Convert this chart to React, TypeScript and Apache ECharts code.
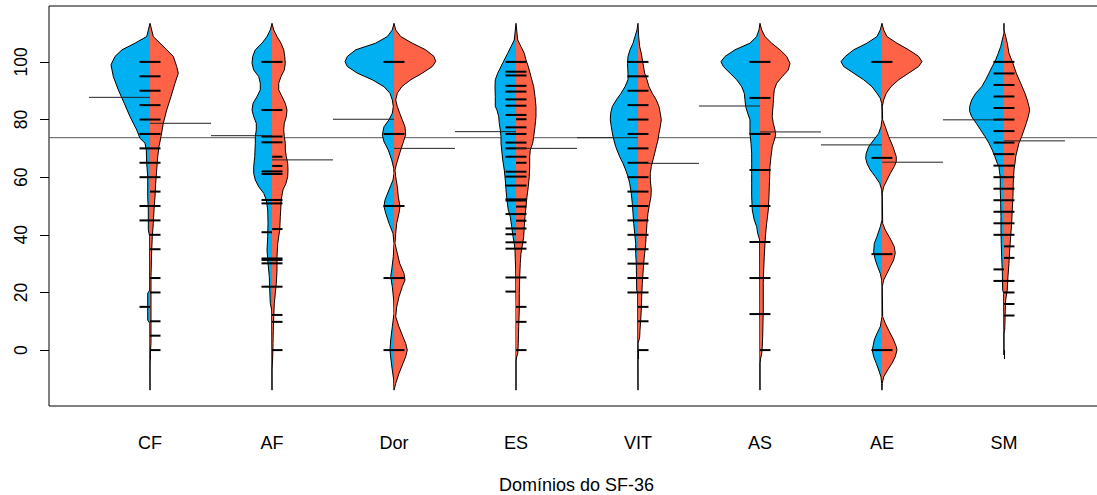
import React, { useEffect, useRef } from 'react';
import * as echarts from 'echarts';

const CATEGORIES = ['CF', 'AF', 'Dor', 'ES', 'VIT', 'AS', 'AE', 'SM'];
const Y_TICKS = [0, 20, 40, 60, 80, 100];
const X_TITLE = 'Domínios do SF-36';
const OVERALL_MEAN = 73.7;
const MEAN_LEFT = [87.7, 74.4, 80.1, 75.8, 73.7, 84.7, 71.2, 79.9];
const MEAN_RIGHT = [78.7, 66, 70, 70, 64.8, 75.7, 65.2, 72.6];

// density outlines: [value, density] (density in arbitrary width units)
const CF_DENS_L = [[113.4,0],[108.8,3.3],[106.5,15],[104.2,28],[101.9,35],[99,39],[94.9,36.7],[90.3,31.7],[85.6,25.7],[81,20],[76.4,13.3],[73.5,10],[71.8,5],[69.4,3.7],[64.8,3.3],[60.2,2.3],[53.2,2.3],[48.6,1.7],[41.7,1.7],[39.4,0.3],[20.8,0.3],[19.7,2.3],[10.4,2.3],[9.3,0.2],[-13.9,0]];
const CF_DENS_R = [[113.4,0],[108.8,3.3],[106.5,10],[104.2,16.7],[101.9,23.3],[98.4,26.7],[96.1,28.3],[92.6,25],[88,21],[83.3,16.7],[78.7,13.3],[74.1,11],[70.6,9],[67.1,7.7],[62.5,6.7],[57.9,5.7],[53.2,5],[48.6,4],[44,3.3],[39.4,2.3],[34.7,1.7],[25.5,1],[2.3,1],[-1.2,0.3],[-5.8,0],[-13.9,0]];
const AF_DENS_L = [[113.4,0],[111.1,1.7],[108.8,5],[106.5,10],[104.2,16.7],[101.9,19.3],[99.5,20],[97.2,18.3],[94.9,13.3],[92.6,11.7],[90.3,11.7],[88,15],[85.6,19],[83.3,20],[81,18.3],[78.7,15.7],[76.4,15.7],[74.1,16.7],[71.8,16.7],[67.1,17.3],[63.7,18.3],[61.3,18.3],[59,16.7],[56.7,13.3],[54.4,8.3],[52.1,5.7],[48.6,4.3],[44,4],[39.4,4.3],[34.7,5],[30.1,4],[25.5,2.7],[20.8,2.3],[16.2,1.7],[13.9,0.3],[-13.9,0]];
const AF_DENS_R = [[113.4,0],[111.1,1.7],[108.8,5],[106.5,9],[104.2,11.7],[101.9,12.7],[99.5,13.3],[97.2,12.3],[94.9,9],[92.6,6.7],[90.3,6.7],[88,10],[85.6,13.3],[83.3,15],[81,14.3],[78.7,12.3],[76.4,11.7],[74.1,12.3],[71.8,13.3],[69.4,13.3],[67.1,14.3],[64.8,15.7],[62.5,16],[60.2,15.7],[57.9,14],[55.6,11],[53.2,9.7],[50.9,9],[48.6,8.7],[46.3,8.3],[41.7,7.7],[37,5.7],[32.4,5],[27.8,5],[23.1,4.3],[19.7,3.3],[16.2,2.3],[11.6,1.7],[6.9,1.3],[2.3,1],[-2.3,0.7],[-6.9,0],[-13.9,0]];
const DOR_DENS_L = [[113.4,0],[111.1,1.7],[108.8,6.7],[106.5,18.3],[104.2,38.3],[101.9,46.7],[100.1,49],[98.4,46.7],[96.1,36.7],[93.8,21.7],[91.4,10],[89.1,4],[86.8,1.7],[84.5,0.7],[82.2,1.7],[79.9,5],[77.5,10],[74.7,11.7],[72.3,10],[69.4,5.7],[66,2.3],[63.1,0.3],[61.3,0],[59,1],[55.6,5],[52.1,9],[49.8,10],[47.5,8.3],[44,5],[40.5,1],[37,0],[32.4,0.7],[27.8,2.3],[25.5,3.3],[22,1.7],[17.4,0.3],[12.7,0],[8.1,1.7],[3.5,3.3],[0,4],[-3.5,3],[-6.9,1.7],[-10.4,0.3],[-13.9,0]];
const DOR_DENS_R = [[113.4,0],[111.1,1.7],[108.8,6.7],[106.5,18.3],[104.2,31.7],[101.9,40],[100.1,41.7],[98.4,38.3],[96.1,28.3],[93.8,16.7],[91.4,7.7],[89.1,3.3],[86.8,1.7],[84.5,3.3],[82.2,5.7],[79.9,8.3],[77.5,11],[74.7,11.7],[71.8,9],[68.3,5.7],[64.8,2.7],[62.5,1],[60.2,1.7],[56.7,3.3],[53.2,4.3],[49.8,6],[47.5,5],[44,2.7],[40.5,1.7],[37,1],[33.6,3.3],[30.1,5.7],[26.6,10],[24.3,11],[22,8.3],[18.5,5],[15,2.7],[11.6,1.7],[8.1,5],[4.6,9],[2.3,11.7],[0,13.3],[-2.3,11.7],[-4.6,9],[-8.1,5],[-11.6,1.7],[-13.9,0]];
const ES_DENS_L = [[113.4,0],[107.6,1.7],[105.3,5],[103,8.3],[100.7,11.7],[98.4,15],[96.1,18.3],[93.8,20.7],[91.4,21],[88,20.7],[84.5,20.7],[83.3,19],[81,17.3],[78.7,16.7],[76.4,15.7],[74.1,15],[71.8,15],[69.4,14.3],[66,13.3],[62.5,11.7],[59,10.7],[55.6,10],[52.1,9],[48.6,7.7],[46.3,5.7],[42.8,4.3],[39.4,3],[37,1.7],[34.7,1],[31.3,0.7],[27.8,0.3],[16.2,0],[-13.9,0]];
const ES_DENS_R = [[113.4,0],[107.6,1.7],[105.3,5],[103,8.3],[100.7,10],[98.4,12.3],[94.9,15],[91.4,17.7],[88,19],[84.5,20],[81,20],[77.5,19],[74.1,17.7],[71.8,16.7],[69.4,14.3],[67.1,13.7],[63.7,13.7],[60.2,13.3],[56.7,12.3],[53.2,11],[49.8,10],[46.3,9],[42.8,8.3],[39.4,7.7],[37,6.7],[33.6,5],[30.1,4.3],[25.5,3.7],[19.7,3.3],[13.9,3.3],[8.1,2.7],[2.3,2.3],[-1.2,1.7],[-2.9,0.3],[-4,0],[-13.9,0]];
const VIT_DENS_L = [[113.4,0],[111.1,1],[108.8,3],[106.5,5],[104.2,8],[101.9,10],[99.5,10.5],[96.1,10],[93.8,10],[91.4,13],[89.1,17],[86.8,21.7],[84.5,25.7],[82.2,27.3],[79.9,27.7],[77.5,26.7],[74.1,25],[70.6,22.3],[67.1,18.3],[64.8,15],[62.5,12.3],[60.2,10],[57.9,8.3],[54.4,6.7],[50.9,5.7],[47.5,5],[44,4.3],[40.5,3.3],[37,2.3],[33.6,2.3],[30.1,1.7],[20.8,1.3],[19.7,0.3],[-13.9,0]];
const VIT_DENS_R = [[113.4,0],[108.8,0.7],[105.3,1.7],[103,3.3],[99.5,5],[96.1,6.7],[93.8,9],[91.4,11],[89.1,14.3],[86.8,18.3],[84.5,21],[82.2,22.3],[79.9,23.3],[77.5,22.3],[75.2,21],[72.9,20],[70.6,18.3],[68.3,16.7],[66,15],[63.7,13.3],[61.3,12.3],[59,12.3],[55.6,13.3],[53.2,13],[50.9,11.7],[47.5,10],[44,9],[40.5,8.3],[37,7.7],[33.6,6.7],[30.1,5.7],[26.6,5],[23.1,4.3],[18.5,3.7],[13.9,3.3],[10.4,2.7],[6.9,2],[4.6,1.7],[3.5,1],[2.3,0],[-13.9,0]];
const AS_DENS_L = [[113.4,0],[111.1,1],[108.8,3.3],[106.5,10],[104.2,25],[101.9,35],[100.1,39],[98.4,36.7],[96.1,30],[93.8,23.3],[91.4,18.3],[89.1,15.7],[86.8,15],[84.5,14.3],[82.2,12.3],[79.9,10],[77.5,10],[75.2,10],[71.8,9],[68.3,8.3],[64.8,8.3],[61.3,8.3],[57.9,8.3],[53.2,8.3],[48.6,7.7],[45.1,5.7],[42.8,3.3],[40.5,2.3],[38.2,0.3],[-13.9,0]];
const AS_DENS_R = [[113.4,0],[111.1,1.7],[108.8,5],[106.5,11.7],[104.2,20],[101.9,26.7],[99.5,30],[97.2,28.3],[94.9,22.3],[92.6,16.7],[90.3,14.3],[88,13.7],[85.6,13.3],[83.3,12.7],[81,12.3],[78.7,13.3],[76.4,15],[74.7,15.7],[72.9,14.3],[70.6,12.3],[67.1,11],[63.7,10],[60.2,9.7],[56.7,9.3],[53.2,9],[48.6,8.3],[44,6.7],[40.5,5.7],[37,5],[32.4,4.3],[27.8,3.7],[23.1,3.3],[13.9,3.3],[9.3,3],[4.6,2.7],[1.2,2.3],[-1.2,1.7],[-2.9,0.7],[-4.6,0],[-13.9,0]];
const AE_DENS_L = [[113.4,0],[111.1,1.7],[108.8,5],[106.5,15],[104.2,28.3],[101.9,36.7],[100.1,41],[98.4,38.3],[96.1,28.3],[93.8,18.3],[91.4,10],[89.1,5],[87.4,1.7],[85.6,0.3],[83.3,0],[79.9,0],[77.5,1],[75.2,3.3],[72.9,8.3],[70.6,13.3],[68.3,15.7],[66.6,16.3],[64.8,15],[62.5,11.7],[60.2,6.7],[57.9,2.3],[55.6,0.3],[53.2,0],[45.1,0],[42.8,1.7],[39.4,5],[37,7.7],[34.1,8.3],[31.3,6.7],[28.9,4.3],[26.6,1.7],[24.3,0.3],[22,0],[11.6,0],[8.1,1.7],[5.8,5],[3.5,7.7],[0,9.7],[-2.3,8.3],[-4.6,5.7],[-6.9,3.3],[-9.3,1],[-11.6,0.3],[-13.9,0]];
const AE_DENS_R = [[113.4,0],[111.1,1.7],[108.8,5],[106.5,15],[104.2,26.7],[101.9,36.7],[100.1,40],[98.4,36.7],[96.1,26.7],[93.8,16.7],[91.4,9],[89.1,4.3],[86.8,1.7],[84.5,0.3],[79.9,0.7],[77.5,3.3],[74.1,6.7],[70.6,11],[67.1,14.3],[65.4,14.3],[63.7,12.3],[61.3,8.3],[59,5],[56.7,1.7],[54.4,0.3],[44,0.7],[41.7,3.3],[38.2,9],[35.9,12.3],[33.6,13.3],[31.3,11.7],[28.9,8.3],[26.6,5],[24.3,1.7],[22,0.3],[11.6,0.7],[9.3,3.3],[6.9,6.7],[3.5,11.7],[1.2,14.3],[0,15],[-2.3,13.3],[-4.6,10],[-6.9,5.7],[-9.3,1.7],[-11.6,0.3],[-13.9,0]];
const SM_DENS_L = [[113.4,0],[110,0],[107.6,1.7],[105.3,3.3],[103,5.7],[100.7,8.3],[98.4,11.7],[96.1,15],[93.8,18.3],[91.4,22.3],[89.1,28.3],[86.8,32.3],[84.5,34.3],[82.8,34.3],[81,32.3],[78.7,27.7],[76.4,23.3],[74.1,19],[71.8,15],[69.4,11.7],[67.1,9],[64.8,6.7],[63.7,5],[61.3,4.3],[60.2,3.7],[55.6,3.7],[50.9,3.3],[46.3,3],[41.7,3],[37,2.7],[32.4,2.3],[27.8,1.7],[20.8,1.3],[19.7,0.3],[-1.7,0]];
const SM_DENS_R = [[113.4,0],[111.1,0],[108.8,1.7],[106.5,3.3],[103,5],[99.5,9],[96.1,12.3],[92.6,16.7],[89.1,21],[86.8,23.3],[84.5,25],[83.3,25.7],[81,24.3],[78.7,22.3],[76.4,20],[74.1,17.7],[71.8,15],[69.4,13.3],[67.1,11.7],[64.8,11],[62.5,10],[57.9,9.3],[53.2,9],[48.6,8.3],[44,7.7],[39.4,6.7],[34.7,5.7],[30.1,5],[25.5,4],[20.8,3.3],[17.4,1.7],[13.9,1.3],[9.3,1],[6.9,0.7],[5.8,0],[-1.7,0]];

// individual observations (bean lines)
const CF_OBS_L = [100, 95, 90, 85, 80, 75, 70, 65, 60, 50, 45, 15];
const CF_OBS_R = [100, 95, 90, 85, 80, 75, 70, 65, 60, 55, 50, 45, 40, 35, 25, 20, 10, 5, 0];
const AF_OBS_L = [100, 83.3, 74.1, 72.1, 62, 61.1, 52.1, 50.9, 40.9, 31.8, 31.3, 30.1, 22];
const AF_OBS_R = [100, 83.3, 74.1, 72.1, 67.1, 63.9, 62, 61.1, 52.1, 50.9, 42, 31.8, 31.3, 30.1, 22, 12.2, 9.8, 0];
const DOR_OBS_L = [100, 75, 50, 25, 0];
const DOR_OBS_R = [100, 75, 50, 25, 0];
const ES_OBS_L = [100, 96.6, 95.3, 91.7, 89.7, 87, 84.8, 81.6, 77.3, 75, 72, 70, 67.1, 61.9, 60.2, 57.1, 52.3, 51.9, 47.2, 42.2, 40.2, 37.4, 35.2, 25.2, 20.3];
const ES_OBS_R = [100, 96.6, 95.3, 91.7, 89.7, 87, 84.8, 81.6, 80.1, 77.3, 75, 72, 70, 67.1, 65, 61.9, 60.2, 57.1, 52.3, 51.9, 49.8, 47.2, 44.9, 42.2, 37.4, 35.2, 25.2, 15, 9.8, 0];
const VIT_OBS_L = [100, 95, 90, 85, 80, 75, 70, 65, 60, 55, 50, 45, 40, 35, 30, 25, 20];
const VIT_OBS_R = [100, 95, 90, 85, 80, 75, 70, 65, 60, 55, 50, 45, 40, 35, 30, 25, 20, 15, 10, 0];
const AS_OBS_L = [100, 87.5, 75, 62.5, 50, 37.5, 25, 12.5];
const AS_OBS_R = [100, 87.5, 75, 62.5, 50, 37.5, 25, 12.5, 0];
const AE_OBS_L = [100, 66.7, 33.3, 0];
const AE_OBS_R = [100, 66.7, 33.3, 0];
const SM_OBS_L = [100, 96, 92, 88, 84, 80, 76, 72, 68, 64, 60, 56, 52, 48, 44, 40, 28, 24];
const SM_OBS_R = [100, 96, 92, 88, 84, 80, 76, 72, 68, 64, 60, 56, 52, 48, 44, 40, 36, 32, 24, 20, 16, 12];

const DENS_L = [CF_DENS_L, AF_DENS_L, DOR_DENS_L, ES_DENS_L, VIT_DENS_L, AS_DENS_L, AE_DENS_L, SM_DENS_L];
const DENS_R = [CF_DENS_R, AF_DENS_R, DOR_DENS_R, ES_DENS_R, VIT_DENS_R, AS_DENS_R, AE_DENS_R, SM_DENS_R];
const OBS_L = [CF_OBS_L, AF_OBS_L, DOR_OBS_L, ES_OBS_L, VIT_OBS_L, AS_OBS_L, AE_OBS_L, SM_OBS_L];
const OBS_R = [CF_OBS_R, AF_OBS_R, DOR_OBS_R, ES_OBS_R, VIT_OBS_R, AS_OBS_R, AE_OBS_R, SM_OBS_R];

const BLUE = '#00B0F0';
const RED = '#FF6347';
const FONT = "'Liberation Sans', Arial, Helvetica, sans-serif";
const DENS_UNIT = 1 / 122; // x-axis units per density unit
const BEANLINE_HALF = 10.5;
const MEANLINE_LEN = 61;

function renderItem(params: any, api: any) {
  const xv = api.value(0);
  const i = xv - 1;
  const cs = params.coordSys;
  const unit = api.size([1, 0])[0];
  const c = api.coord([xv, 0])[0];
  const py = (v: number) => api.coord([xv, v])[1];
  const children: any[] = [];
  if (i === 0) {
    const y = py(OVERALL_MEAN);
    children.push({ type: 'line', shape: { x1: cs.x, y1: y, x2: cs.x + cs.width, y2: y }, style: { stroke: '#555', lineWidth: 1 } });
  }
  const side = (dens: number[][], sign: number, color: string) => {
    const pts = dens.map(([v, d]) => [c + sign * d * DENS_UNIT * unit, py(v)]);
    children.push({ type: 'polygon', shape: { points: pts }, style: { fill: color, stroke: null } });
    children.push({ type: 'polyline', shape: { points: pts }, style: { stroke: '#000', lineWidth: 1, fill: null } });
  };
  side(DENS_L[i], -1, BLUE);
  side(DENS_R[i], 1, RED);
  OBS_L[i].forEach((v) => {
    const y = py(v);
    children.push({ type: 'line', shape: { x1: c - BEANLINE_HALF, y1: y, x2: c, y2: y }, style: { stroke: '#000', lineWidth: 2 } });
  });
  OBS_R[i].forEach((v) => {
    const y = py(v);
    children.push({ type: 'line', shape: { x1: c, y1: y, x2: c + BEANLINE_HALF, y2: y }, style: { stroke: '#000', lineWidth: 2 } });
  });
  const yl = py(MEAN_LEFT[i]);
  children.push({ type: 'line', shape: { x1: c - MEANLINE_LEN, y1: yl, x2: c, y2: yl }, style: { stroke: '#222', lineWidth: 1 } });
  const yr = py(MEAN_RIGHT[i]);
  children.push({ type: 'line', shape: { x1: c, y1: yr, x2: c + MEANLINE_LEN, y2: yr }, style: { stroke: '#222', lineWidth: 1 } });
  return { type: 'group', children };
}

export default function App() {
  const ref = useRef<HTMLDivElement>(null);
  useEffect(() => {
    if (!ref.current) return;
    const chart = echarts.init(ref.current, undefined, { renderer: 'svg', width: 1097, height: 495 });
    const xTicks = CATEGORIES.map((_, i) => i + 1);
    chart.setOption({
      animation: false,
      backgroundColor: '#fff',
      grid: {
        left: 49, top: 6, right: -7, bottom: 89,
        outerBoundsMode: 'none',
        containLabel: false,
        show: true, borderColor: '#000', borderWidth: 1, backgroundColor: 'transparent',
      },
      xAxis: {
        type: 'value',
        min: 0.172,
        max: 8.82,
        name: X_TITLE,
        nameLocation: 'middle',
        nameGap: 70,
        nameTextStyle: { fontFamily: FONT, fontSize: 18, color: '#000' },
        axisLine: { show: false },
        splitLine: { show: false },
        axisTick: { show: true, customValues: xTicks, length: 9, lineStyle: { color: '#000' } },
        axisLabel: {
          customValues: xTicks,
          margin: 28,
          fontFamily: FONT,
          fontSize: 18,
          color: '#000',
          formatter: (v: number) => CATEGORIES[Math.round(v) - 1] ?? '',
        },
      },
      yAxis: {
        type: 'value',
        min: -19.4,
        max: 119.4,
        axisLine: { show: false },
        splitLine: { show: false },
        axisTick: { show: true, customValues: Y_TICKS, length: 9, lineStyle: { color: '#000' } },
        axisLabel: {
          customValues: Y_TICKS,
          rotate: 90,
          margin: 19,
          fontFamily: FONT,
          fontSize: 17.5,
          color: '#000',
        },
      },
      series: [
        {
          type: 'custom',
          renderItem,
          clip: false,
          data: CATEGORIES.map((_, i) => [i + 1]),
          encode: { x: 0 },
        },
      ],
    });
    return () => chart.dispose();
  }, []);
  return (
    <div
      ref={ref}
      style={{ position: 'fixed', left: 0, top: 0, width: 1097, height: 495, overflow: 'hidden' }}
    />
  );
}
